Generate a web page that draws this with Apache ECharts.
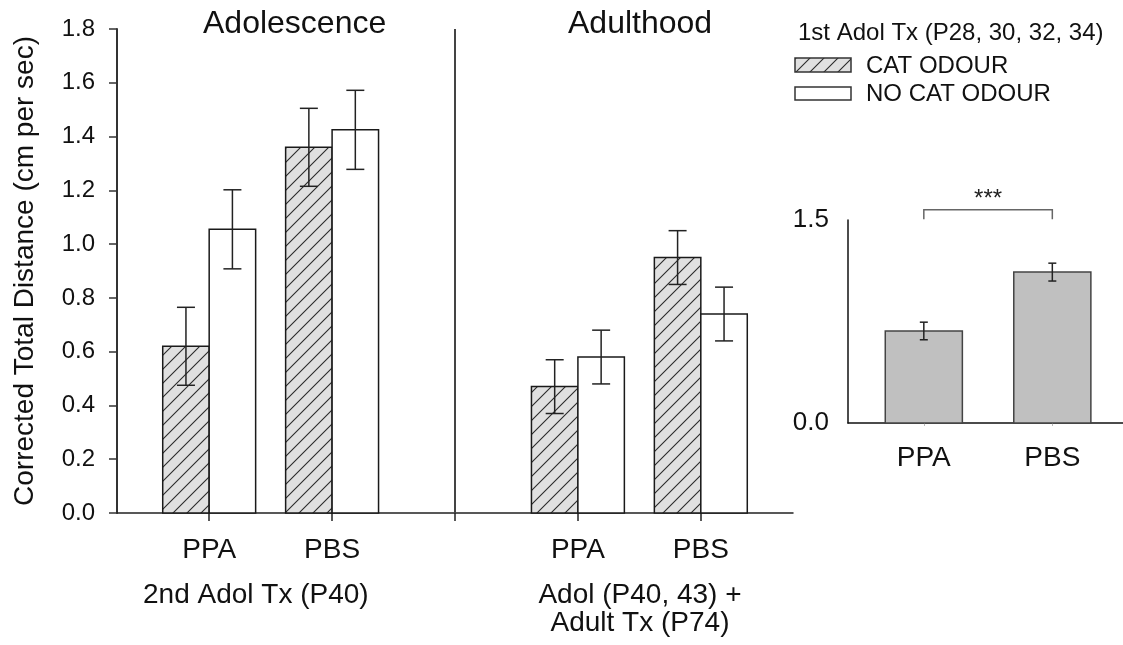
<!DOCTYPE html>
<html><head><meta charset="utf-8">
<script src="https://cdn.jsdelivr.net/npm/echarts@6/dist/echarts.min.js"></script>
<style>html,body{margin:0;padding:0;background:#fff}#chart{width:1123px;height:645px}</style>
</head><body><div id="chart"></div>
<script>
// ---- data ----
const groupPositions = [1, 2, 4, 5];
const groupLabels = ['PPA', 'PBS', 'PPA', 'PBS'];
const dividerPositions = [3];
const mainTickPositions = [1, 2, 3, 4, 5];
const catOdourMeans = [0.62, 1.36, 0.47, 0.95];
const catOdourErrors = [0.145, 0.145, 0.10, 0.10];
const noCatOdourMeans = [1.055, 1.425, 0.58, 0.74];
const noCatOdourErrors = [0.147, 0.147, 0.10, 0.10];
const insetPositions = [1, 2];
const insetCategories = ['PPA', 'PBS'];
const insetMeans = [0.68, 1.115];
const insetErrors = [0.065, 0.066];
const insetSignificance = '***';

const FONT = '"Liberation Sans", Arial, sans-serif';
const TXT = '#111';

function makeHatch() {
  const s = 14;
  const c = document.createElement('canvas');
  c.width = s; c.height = s;
  const g = c.getContext('2d');
  g.fillStyle = '#e0e0e0';
  g.fillRect(0, 0, s, s);
  g.strokeStyle = '#2a2a2a';
  g.lineWidth = 1.1;
  g.beginPath();
  g.moveTo(-2, s + 2); g.lineTo(s + 2, -2);
  g.moveTo(-s / 2 - 2, s / 2 + 2); g.lineTo(s / 2 + 2, -s / 2 - 2);
  g.moveTo(s / 2 - 2, s * 1.5 + 2); g.lineTo(s * 1.5 + 2, s / 2 - 2);
  g.stroke();
  return c;
}
const hatchFill = { image: makeHatch(), repeat: 'repeat' };

function barRenderer(off0, off1, fill, stroke, capHalf) {
  return function (params, api) {
    const x = api.value(0), v = api.value(1), e = api.value(2);
    const mid = x + (off0 + off1) / 2;
    const a = api.coord([x + off0, 0]);
    const b = api.coord([x + off1, v]);
    const t = api.coord([mid, v + e]);
    const d = api.coord([mid, v - e]);
    const es = { stroke: '#222', lineWidth: 1.5 };
    return {
      type: 'group',
      children: [
        { type: 'rect', shape: { x: a[0], y: b[1], width: b[0] - a[0], height: a[1] - b[1] },
          style: { fill: fill, stroke: stroke, lineWidth: 1.5 } },
        { type: 'line', shape: { x1: t[0], y1: t[1], x2: d[0], y2: d[1] }, style: es },
        { type: 'line', shape: { x1: t[0] - capHalf, y1: t[1], x2: t[0] + capHalf, y2: t[1] }, style: es },
        { type: 'line', shape: { x1: d[0] - capHalf, y1: d[1], x2: d[0] + capHalf, y2: d[1] }, style: es }
      ]
    };
  };
}

const BW = 0.378;
const chart = echarts.init(document.getElementById('chart'), null, { renderer: 'canvas' });

const option = {
  backgroundColor: '#fff',
  animation: false,
  textStyle: { fontFamily: FONT },
  grid: [
    { left: 117, top: 29, width: 676, height: 484 },
    { left: 848, top: 220, right: 0, height: 203 }
  ],
  xAxis: [
    { gridIndex: 0, type: 'value', min: 0.25, max: 5.75,
      axisLine: { show: true, onZero: false, lineStyle: { color: '#222', width: 1.5 } },
      axisTick: { show: true, customValues: mainTickPositions, length: 8, lineStyle: { color: '#222', width: 1.5 } },
      axisLabel: { show: true, customValues: groupPositions, margin: 23, fontSize: 28, color: TXT, fontFamily: FONT,
        formatter: v => groupLabels[groupPositions.indexOf(v)] || '' },
      splitLine: { show: false } },
    { gridIndex: 1, type: 'value', min: 0.41, max: 2.55,
      axisLine: { show: true, onZero: false, lineStyle: { color: '#111', width: 1.5 } },
      axisTick: { show: true, customValues: insetPositions, length: 3, lineStyle: { color: '#bbb', width: 1 } },
      axisLabel: { show: true, customValues: insetPositions, margin: 21, fontSize: 28, color: TXT, fontFamily: FONT,
        formatter: v => insetCategories[insetPositions.indexOf(v)] || '' },
      splitLine: { show: false } }
  ],
  yAxis: [
    { gridIndex: 0, type: 'value', min: 0, max: 1.8, interval: 0.2,
      name: 'Corrected Total Distance (cm per sec)', nameLocation: 'middle', nameGap: 78,
      nameTextStyle: { fontSize: 28, color: TXT, fontFamily: FONT },
      axisLine: { show: true, lineStyle: { color: '#333', width: 2 } },
      axisTick: { show: true, length: 8, lineStyle: { color: '#333', width: 1.5 } },
      axisLabel: { margin: 22, fontSize: 24, color: TXT, fontFamily: FONT, formatter: v => v.toFixed(1) },
      splitLine: { show: false } },
    { gridIndex: 1, type: 'value', min: 0, max: 1.5, interval: 1.5,
      axisLine: { show: true, lineStyle: { color: '#111', width: 1.5 } },
      axisTick: { show: false },
      axisLabel: { margin: 19, fontSize: 26, color: TXT, fontFamily: FONT, formatter: v => v.toFixed(1) },
      splitLine: { show: false } }
  ],
  series: [
    { type: 'custom', name: 'CAT ODOUR', xAxisIndex: 0, yAxisIndex: 0, z: 2,
      data: groupPositions.map((p, i) => [p, catOdourMeans[i], catOdourErrors[i]]),
      encode: { x: 0, y: 1 },
      renderItem: barRenderer(-BW, 0, hatchFill, '#1a1a1a', 9) },
    { type: 'custom', name: 'NO CAT ODOUR', xAxisIndex: 0, yAxisIndex: 0, z: 2,
      data: groupPositions.map((p, i) => [p, noCatOdourMeans[i], noCatOdourErrors[i]]),
      encode: { x: 0, y: 1 },
      renderItem: barRenderer(0, BW, '#ffffff', '#1a1a1a', 9) },
    { type: 'custom', name: 'divider', xAxisIndex: 0, yAxisIndex: 0, z: 3, clip: false,
      data: dividerPositions.map(p => [p]),
      encode: { x: 0 },
      renderItem: function (params, api) {
        const a = api.coord([api.value(0), 0]);
        const b = api.coord([api.value(0), 1.8]);
        return { type: 'line', shape: { x1: a[0], y1: a[1], x2: b[0], y2: b[1] }, style: { stroke: '#444', lineWidth: 2 } };
      } },
    { type: 'custom', name: 'inset', xAxisIndex: 1, yAxisIndex: 1, z: 2,
      data: insetPositions.map((p, i) => [p, insetMeans[i], insetErrors[i]]),
      encode: { x: 0, y: 1 },
      renderItem: barRenderer(-0.3, 0.3, '#c0c0c0', '#444', 4) },
    { type: 'custom', name: 'significance', xAxisIndex: 1, yAxisIndex: 1, z: 3, clip: false,
      data: [[insetPositions[0], insetPositions[1], 1.575, 1.505]],
      encode: { x: [0, 1] },
      renderItem: function (params, api) {
        const l = api.coord([api.value(0), api.value(2)]);
        const r = api.coord([api.value(1), api.value(2)]);
        const lb = api.coord([api.value(0), api.value(3)]);
        const st = { stroke: '#666', lineWidth: 1.5, fill: null };
        return { type: 'group', children: [
          { type: 'polyline', shape: { points: [[l[0], lb[1]], [l[0], l[1]], [r[0], r[1]], [r[0], lb[1]]] }, style: st },
          { type: 'text', style: { text: insetSignificance, x: (l[0] + r[0]) / 2, y: l[1] - 10,
              align: 'center', verticalAlign: 'middle', font: '24px ' + FONT, fill: '#222' } }
        ] };
      } }
  ],
  graphic: [
    { type: 'text', left: 203, top: 8, style: { text: 'Adolescence', font: '32px ' + FONT, fill: TXT } },
    { type: 'text', left: 568, top: 8, style: { text: 'Adulthood', font: '32px ' + FONT, fill: TXT } },
    { type: 'text', left: 143, top: 581, style: { text: '2nd Adol Tx (P40)', font: '28px ' + FONT, fill: TXT } },
    { type: 'text', x: 640, y: 581, style: { text: 'Adol (P40, 43) +\nAdult Tx (P74)', font: '28px ' + FONT, fill: TXT, align: 'center', lineHeight: 28 } },
    { type: 'text', left: 798, top: 21, style: { text: '1st Adol Tx (P28, 30, 32, 34)', font: '24px ' + FONT, fill: TXT } },
    { type: 'rect', shape: { x: 795, y: 58, width: 56, height: 14 }, style: { fill: hatchFill, stroke: '#333', lineWidth: 1.5 } },
    { type: 'text', left: 866, top: 54, style: { text: 'CAT ODOUR', font: '24px ' + FONT, fill: TXT } },
    { type: 'rect', shape: { x: 795, y: 87, width: 56, height: 13 }, style: { fill: '#fff', stroke: '#333', lineWidth: 1.5 } },
    { type: 'text', left: 866, top: 82, style: { text: 'NO CAT ODOUR', font: '24px ' + FONT, fill: TXT } }
  ]
};
chart.setOption(option);
</script></body></html>
